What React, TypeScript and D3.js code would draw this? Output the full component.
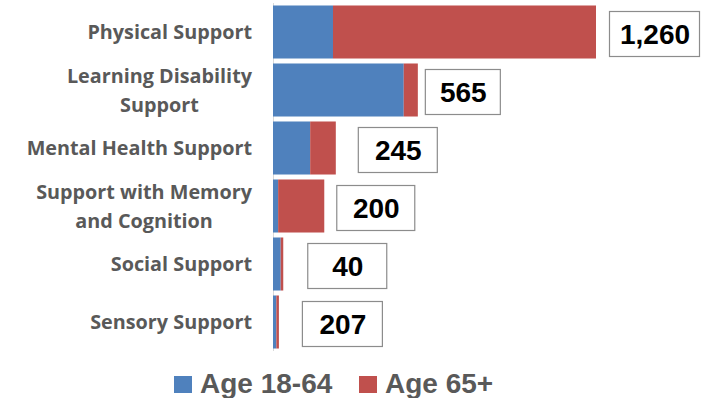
import React, { useEffect, useRef } from "react";
import * as d3 from "d3";

const categories = [
  "Physical Support",
  "Learning Disability\nSupport",
  "Mental Health Support",
  "Support with Memory\nand Cognition",
  "Social Support",
  "Sensory Support",
];
const age1864 = [234, 510, 145, 20, 30, 13];
const age65plus = [1026, 55, 100, 180, 10, 10];
const totalLabels = ["1,260", "565", "245", "200", "40", "207"];
const seriesNames = ["Age 18-64", "Age 65+"];

// layout only
const labelGap = [13, 7, 22, 12, 24, 23];
const labelBoxW = [90, 75, 79, 78, 79, 80];

const COLORS = ["#4F81BD", "#C0504D"];
const FONT = "'Liberation Sans', Arial, sans-serif";
const CAT_FONT = "'Open Sans', 'Liberation Sans', sans-serif";

export default function App() {
  const ref = useRef<SVGSVGElement | null>(null);

  useEffect(() => {
    const svg = d3.select(ref.current);
    svg.selectAll("*").remove();

    const x = d3.scaleLinear().domain([0, 1260]).range([273, 596]);
    const y = d3
      .scaleBand<string>()
      .domain(categories)
      .range([3, 351])
      .paddingInner(0.086)
      .paddingOuter(0.043);

    const rows = categories.map((c, i) => ({
      c,
      i,
      a: age1864[i],
      b: age65plus[i],
    }));

    // axis line
    svg
      .append("line")
      .attr("x1", x(0) + 0.5)
      .attr("x2", x(0) + 0.5)
      .attr("y1", 3)
      .attr("y2", 351)
      .attr("stroke", "#d9d9d9")
      .attr("stroke-width", 1);

    const g = svg.append("g");
    g.selectAll("rect.a")
      .data(rows)
      .join("rect")
      .attr("class", "a")
      .attr("x", x(0))
      .attr("y", (d) => y(d.c)!)
      .attr("width", (d) => x(d.a) - x(0))
      .attr("height", y.bandwidth())
      .attr("fill", COLORS[0]);
    g.selectAll("rect.b")
      .data(rows)
      .join("rect")
      .attr("class", "b")
      .attr("x", (d) => x(d.a))
      .attr("y", (d) => y(d.c)!)
      .attr("width", (d) => x(d.a + d.b) - x(d.a))
      .attr("height", y.bandwidth())
      .attr("fill", COLORS[1]);

    // category labels
    const labelRight = 252;
    const lineH = 29;
    rows.forEach((d) => {
      const lines = d.c.split("\n");
      const cy = y(d.c)! + y.bandwidth() / 2;
      const t = svg
        .append("text")
        .attr("font-family", CAT_FONT)
        .attr("font-weight", "bold")
        .attr("font-size", 19.8)
        .attr("fill", "#595959")
        .attr("text-anchor", "middle");
      const spans = lines.map((ln, k) =>
        t
          .append("tspan")
          .attr("y", cy + 7 + (k - (lines.length - 1) / 2) * lineH)
          .text(ln)
      );
      let maxW = 0;
      spans.forEach((s) => {
        const w = (s.node() as SVGTSpanElement).getComputedTextLength();
        if (w > maxW) maxW = w;
      });
      spans.forEach((s) => s.attr("x", labelRight - maxW / 2));
    });

    // total label boxes
    rows.forEach((d) => {
      const cy = y(d.c)! + y.bandwidth() / 2 + 2;
      const bx = x(d.a + d.b) + labelGap[d.i];
      const bw = labelBoxW[d.i];
      svg
        .append("rect")
        .attr("x", bx + 0.5)
        .attr("y", cy - 23 + 0.5)
        .attr("width", bw)
        .attr("height", 45)
        .attr("fill", "#fff")
        .attr("stroke", "#8c8c8c")
        .attr("stroke-width", 1.2);
      svg
        .append("text")
        .attr("x", bx + bw / 2 + 1)
        .attr("y", cy + 10)
        .attr("text-anchor", "middle")
        .attr("font-family", FONT)
        .attr("font-weight", "bold")
        .attr("font-size", 28)
        .attr("fill", "#000")
        .text(totalLabels[d.i]);
    });

    // legend
    const legX = [174, 359];
    seriesNames.forEach((n, k) => {
      svg
        .append("rect")
        .attr("x", legX[k])
        .attr("y", 376)
        .attr("width", 18)
        .attr("height", 17)
        .attr("fill", COLORS[k]);
      svg
        .append("text")
        .attr("x", legX[k] + 26)
        .attr("y", 393)
        .attr("font-family", FONT)
        .attr("font-weight", "bold")
        .attr("font-size", 28)
        .attr("fill", "#595959")
        .text(n);
    });
  }, []);

  return (
    <svg
      ref={ref}
      width={706}
      height={398}
      style={{ position: "absolute", left: 0, top: 0, background: "#fff" }}
    />
  );
}
